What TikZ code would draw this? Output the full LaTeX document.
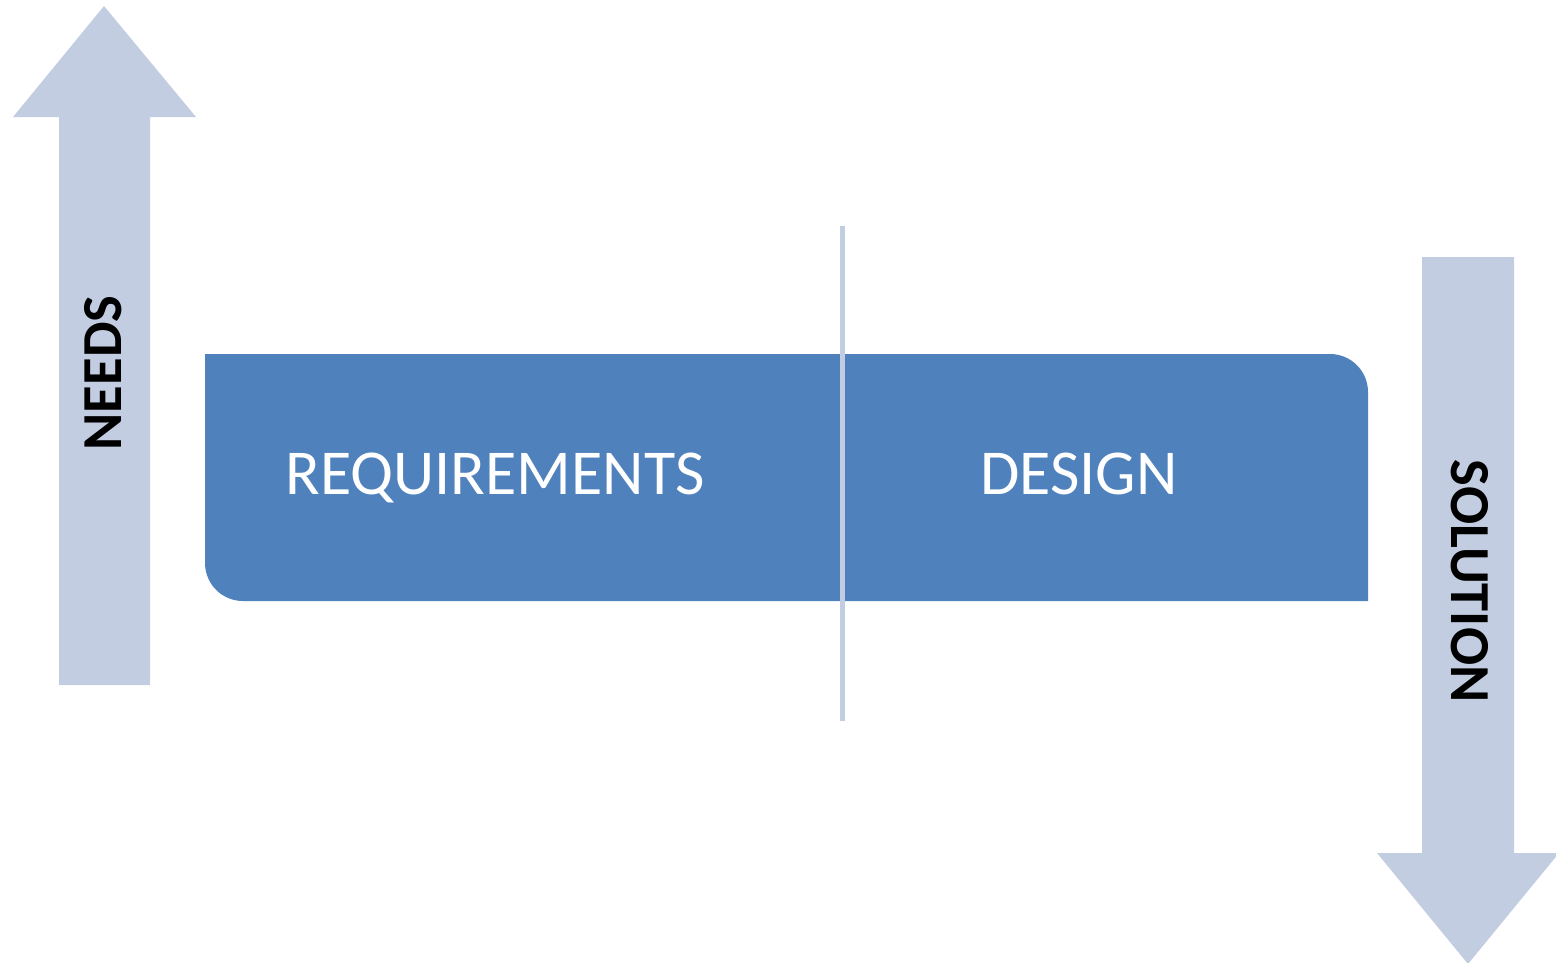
\documentclass[tikz,border=0pt]{standalone}
\usepackage{fontspec}
\setmainfont{Carlito}
\definecolor{boxblue}{HTML}{4F81BD}
\definecolor{lightblue}{HTML}{C3CDE1}
\begin{document}
\begin{tikzpicture}[x=1pt,y=-1pt,
  arrowfill/.style={fill=lightblue,draw=none},
  lbl/.style={text=white,font=\fontsize{64}{64}\selectfont,inner sep=0pt,anchor=base},
  side/.style={text=black,font=\fontsize{56.5}{56.5}\selectfont\bfseries,inner sep=0pt}]
\useasboundingbox (0,0) rectangle (1556,962);
% left arrow (needs)
\fill[arrowfill] (59,685) -- (59,117) -- (13,117) -- (104,6) -- (196,117) -- (150,117) -- (150,685) -- cycle;
% right arrow (solution)
\fill[arrowfill] (1422,257) -- (1422,853) -- (1377,853) -- (1468,964) -- (1559,853) -- (1514,853) -- (1514,257) -- cycle;
% main box
\fill[boxblue] (205,354) -- (1330,354) .. controls (1351,354) and (1368,371) .. (1368,392) -- (1368,601) -- (243,601) .. controls (222,601) and (205,584) .. (205,563) -- cycle;
% divider
\fill[lightblue] (840,226) rectangle (845,721);
\node[lbl] (req) at (495,494) {REQUIREMENTS};
\node[lbl] (des) at (1079,494) {DESIGN};
\node[side,rotate=90] (needs) at (103,373) {NEEDS};
\node[side,rotate=-90] (sol) at (1470,581) {SOLUTION};
\end{tikzpicture}
\end{document}
